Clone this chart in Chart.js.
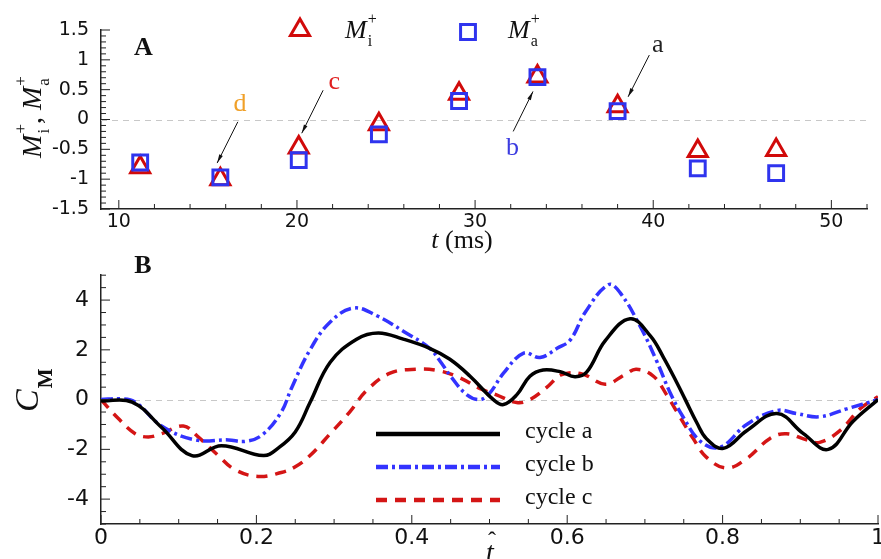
<!DOCTYPE html>
<html>
<head>
<meta charset="utf-8">
<script src="https://cdn.jsdelivr.net/npm/chart.js@4.4.0/dist/chart.umd.min.js"></script>
<style>
  html, body { margin: 0; padding: 0; background: #fff; }
  #chartA { position: absolute; left: 0; top: 0; }
  #chartB { position: absolute; left: 0; top: 250px; }
</style>
</head>
<body>
<canvas id="chartA" width="881" height="255"></canvas>
<canvas id="chartB" width="881" height="309"></canvas>
<script>
(() => {
  'use strict';

  // Panel A: peak moments per pulse
  const pulseTimes = [11.2, 15.7, 20.1, 24.6, 29.1, 33.5, 38.0, 42.5, 46.9];
  const momentInst = [-0.8, -1.0, -0.47, -0.08, 0.43, 0.72, 0.22, -0.53, -0.51];
  const momentAvg = [-0.72, -0.97, -0.68, -0.25, 0.31, 0.71, 0.14, -0.82, -0.9];
  const xTicksA = [10, 20, 30, 40, 50];
  const yTicksA = [-1.5, -1, -0.5, 0, 0.5, 1, 1.5];

  // Panel B: moment coefficient over one cycle
  const tCycleA = [0, 0.04, 0.078, 0.117, 0.155, 0.209, 0.228, 0.25, 0.269, 0.295, 0.329, 0.357, 0.389, 0.423, 0.449, 0.475, 0.505, 0.518, 0.535, 0.552, 0.569, 0.591, 0.61, 0.625, 0.649, 0.681, 0.707, 0.724, 0.741, 0.752, 0.767, 0.779, 0.801, 0.831, 0.87, 0.904, 0.936, 0.968, 1.0];
  const cmCycleA = [-0.05, -0.1, -1.12, -2.25, -1.85, -2.25, -1.95, -1.3, -0.12, 1.5, 2.43, 2.68, 2.43, 2.06, 1.62, 0.94, 0, -0.2, 0.19, 0.94, 1.19, 1.12, 0.92, 1.1, 2.37, 3.25, 2.56, 1.69, 0.69, 0, -0.94, -1.56, -1.96, -1.25, -0.56, -1.37, -2.0, -0.87, 0];

  const tCycleB = [0, 0.025, 0.044, 0.078, 0.121, 0.164, 0.185, 0.207, 0.232, 0.245, 0.269, 0.295, 0.325, 0.355, 0.389, 0.423, 0.436, 0.451, 0.471, 0.488, 0.5, 0.518, 0.544, 0.565, 0.587, 0.604, 0.623, 0.653, 0.668, 0.694, 0.715, 0.732, 0.749, 0.772, 0.797, 0.831, 0.87, 0.895, 0.925, 0.96, 1.0];
  const cmCycleB = [0, 0.03, -0.1, -1.06, -1.62, -1.62, -1.68, -1.43, -0.5, 0.45, 2.0, 3.12, 3.68, 3.37, 2.75, 2.06, 1.56, 0.9, 0.19, 0, 0.25, 1.06, 1.87, 1.69, 2.06, 2.4, 3.5, 4.62, 4.3, 2.94, 1.56, 0.31, -0.69, -1.69, -1.91, -1.0, -0.44, -0.56, -0.69, -0.37, 0];

  const tCycleC = [0, 0.022, 0.044, 0.061, 0.078, 0.106, 0.125, 0.151, 0.172, 0.202, 0.232, 0.25, 0.269, 0.295, 0.32, 0.342, 0.372, 0.406, 0.436, 0.462, 0.488, 0.509, 0.535, 0.552, 0.574, 0.593, 0.619, 0.649, 0.674, 0.689, 0.711, 0.728, 0.745, 0.762, 0.779, 0.805, 0.831, 0.861, 0.882, 0.908, 0.925, 0.951, 0.977, 1.0];
  const cmCycleC = [0, -0.75, -1.37, -1.5, -1.37, -1.06, -1.5, -2.25, -2.81, -3.09, -2.93, -2.7, -2.25, -1.37, -0.5, 0.37, 1.06, 1.22, 1.15, 0.87, 0.44, 0.19, -0.12, 0, 0.5, 1.0, 1.03, 0.62, 1.0, 1.22, 0.94, 0.19, -0.69, -1.56, -2.31, -2.75, -2.37, -1.56, -1.37, -1.62, -1.72, -1.25, -0.37, 0.12];

  const xTicksB = [0, 0.2, 0.4, 0.6, 0.8, 1];
  const yTicksB = [-4, -2, 0, 2, 4];
  const cycleNames = ['cycle a', 'cycle b', 'cycle c'];

  const RED = '#d10a0a';
  const BLUE = '#2f34ee';
  const SERIF = '"Liberation Serif", "Times New Roman", serif';
  const SANS = '"DejaVu Sans", Verdana, sans-serif';

  const toPoints = (xs, ys) => xs.map((x, i) => ({ x: x, y: ys[i] }));

  // Tecplot-style ticks pointing into the plot, with minor ticks
  const innerTicks = {
    id: 'innerTicks',
    afterDraw(chart, args, opts) {
      const { ctx, chartArea: a } = chart;
      const sx = chart.scales.x, sy = chart.scales.y;
      const walk = (scale, minor, major, cb) => {
        const n0 = Math.ceil(scale.min / minor - 1e-9);
        const n1 = Math.floor(scale.max / minor + 1e-9);
        for (let i = n0; i <= n1; i++) {
          const v = i * minor;
          const isMajor = Math.abs(v / major - Math.round(v / major)) < 1e-6;
          cb(scale.getPixelForValue(v), isMajor ? 9 : 5);
        }
      };
      ctx.save();
      ctx.strokeStyle = '#222';
      ctx.lineWidth = 1;
      ctx.beginPath();
      walk(sx, opts.minorX, opts.majorX, (p, len) => { ctx.moveTo(p, a.bottom); ctx.lineTo(p, a.bottom - len); });
      walk(sy, opts.minorY, opts.majorY, (p, len) => { ctx.moveTo(a.left, p); ctx.lineTo(a.left + len, p); });
      ctx.stroke();
      ctx.restore();
    }
  };

  // dashed grey line at zero
  const zeroLine = {
    id: 'zeroLine',
    beforeDatasetsDraw(chart) {
      const { ctx, chartArea: a } = chart;
      const y = Math.round(chart.scales.y.getPixelForValue(0)) + 0.5;
      ctx.save();
      ctx.strokeStyle = '#c8c8c8';
      ctx.lineWidth = 1;
      ctx.setLineDash([6, 5]);
      ctx.beginPath();
      ctx.moveTo(a.left, y);
      ctx.lineTo(a.right, y);
      ctx.stroke();
      ctx.restore();
    }
  };

  // italic M with stacked superscript + and a subscript
  function drawMSymbol(ctx, x, y, sub, size, draw) {
    ctx.font = 'italic ' + size + 'px ' + SERIF;
    const w = ctx.measureText('M').width;
    if (draw) ctx.fillText('M', x, y);
    const small = Math.round(size * 0.6);
    ctx.font = small + 'px ' + SERIF;
    const wp = ctx.measureText('+').width;
    const ws = ctx.measureText(sub).width;
    if (draw) {
      ctx.fillText('+', x + w + 1, y - size * 0.52);
      ctx.fillText(sub, x + w + 1, y + size * 0.3);
    }
    return w + 1 + Math.max(wp, ws);
  }

  const calloutsA = [
    { text: 'd', color: '#f0a028', at: [16.8, 0.26], from: [16.68, -0.04], to: [15.52, -0.73] },
    { text: 'c', color: '#e02020', at: [22.1, 0.63], from: [21.47, 0.49], to: [20.27, -0.23] },
    { text: 'b', color: '#3c3ce0', at: [32.1, -0.48], from: [32.14, -0.2], to: [33.25, 0.47] },
    { text: 'a', color: '#222222', at: [40.25, 1.25], from: [39.78, 1.08], to: [38.59, 0.38] }
  ];

  const decorA = {
    id: 'decorA',
    afterDraw(chart) {
      const { ctx, chartArea: a } = chart;
      const sx = chart.scales.x, sy = chart.scales.y;
      ctx.save();
      ctx.fillStyle = '#111';
      ctx.textBaseline = 'alphabetic';

      // panel letter
      ctx.font = 'bold 26px ' + SERIF;
      ctx.textAlign = 'center';
      ctx.fillText('A', a.left + 42.5, 55);

      // legend
      const ds = chart.data.datasets;
      [[300, 28, 345, 0, 'i'], [468, 30, 508, 1, 'a']].forEach(([mx, my, tx, di, sub]) => {
        ctx.lineWidth = ds[di].borderWidth;
        ctx.strokeStyle = ds[di].borderColor;
        ctx.fillStyle = 'rgba(0,0,0,0)';
        Chart.helpers.drawPoint(ctx, { pointStyle: ds[di].pointStyle, radius: ds[di].pointRadius, borderWidth: ds[di].borderWidth, rotation: 0 }, mx, my + 2);
        ctx.fillStyle = '#111';
        ctx.textAlign = 'left';
        drawMSymbol(ctx, tx, 38, sub, 26, true);
      });

      // y title
      ctx.save();
      ctx.translate(41, 117);
      ctx.rotate(-Math.PI / 2);
      ctx.textAlign = 'left';
      const parts = (draw, x0) => {
        let x = x0;
        x += drawMSymbol(ctx, x, 0, 'i', 28, draw);
        ctx.font = '28px ' + SERIF;
        if (draw) ctx.fillText(',', x, 0);
        x += ctx.measureText(', ').width;
        x += drawMSymbol(ctx, x, 0, 'a', 28, draw);
        return x - x0;
      };
      const w = parts(false, 0);
      parts(true, -w / 2);
      ctx.restore();

      // x title
      ctx.textAlign = 'left';
      ctx.font = 'italic 26px ' + SERIF;
      const wt = ctx.measureText('t ').width;
      ctx.font = '26px ' + SERIF;
      const wm = ctx.measureText('(ms)').width;
      const x0 = 462 - (wt + wm) / 2;
      ctx.font = 'italic 26px ' + SERIF;
      ctx.fillText('t', x0, 248);
      ctx.font = '26px ' + SERIF;
      ctx.fillText('(ms)', x0 + wt, 248);

      // callouts with arrows
      calloutsA.forEach(c => {
        const x1 = sx.getPixelForValue(c.from[0]), y1 = sy.getPixelForValue(c.from[1]);
        const x2 = sx.getPixelForValue(c.to[0]), y2 = sy.getPixelForValue(c.to[1]);
        ctx.strokeStyle = '#111';
        ctx.fillStyle = '#111';
        ctx.lineWidth = 1;
        ctx.beginPath();
        ctx.moveTo(x1, y1);
        ctx.lineTo(x2, y2);
        ctx.stroke();
        const ang = Math.atan2(y2 - y1, x2 - x1);
        ctx.beginPath();
        ctx.moveTo(x2, y2);
        ctx.lineTo(x2 - 9 * Math.cos(ang - 0.22), y2 - 9 * Math.sin(ang - 0.22));
        ctx.lineTo(x2 - 9 * Math.cos(ang + 0.22), y2 - 9 * Math.sin(ang + 0.22));
        ctx.closePath();
        ctx.fill();
        ctx.fillStyle = c.color;
        ctx.font = '26px ' + SERIF;
        ctx.textAlign = 'center';
        ctx.textBaseline = 'middle';
        ctx.fillText(c.text, sx.getPixelForValue(c.at[0]), sy.getPixelForValue(c.at[1]));
        ctx.textBaseline = 'alphabetic';
      });
      ctx.restore();
    }
  };

  const decorB = {
    id: 'decorB',
    afterDraw(chart) {
      const { ctx, chartArea: a } = chart;
      ctx.save();
      ctx.fillStyle = '#111';

      ctx.font = 'bold 26px ' + SERIF;
      ctx.textAlign = 'center';
      ctx.fillText('B', a.left + 42, 23);

      // legend
      chart.data.datasets.forEach((ds, i) => {
        const y = 184 + i * 33;
        ctx.strokeStyle = ds.borderColor;
        ctx.lineWidth = 4.5;
        ctx.setLineDash(ds.borderDash || []);
        ctx.beginPath();
        ctx.moveTo(376, y);
        ctx.lineTo(500, y);
        ctx.stroke();
        ctx.setLineDash([]);
        ctx.fillStyle = '#111';
        ctx.font = '24px ' + SERIF;
        ctx.textAlign = 'left';
        ctx.fillText(ds.label, 525, y + 4);
      });

      // y title C_M
      ctx.save();
      ctx.translate(38, 162);
      ctx.rotate(-Math.PI / 2);
      ctx.textAlign = 'left';
      ctx.font = 'italic 34px ' + SERIF;
      ctx.fillText('C', 0, 0);
      const wc = ctx.measureText('C').width;
      ctx.font = 'bold 21px ' + SERIF;
      ctx.fillText('M', wc + 1, 14);
      ctx.restore();

      // x title t-hat
      ctx.textAlign = 'center';
      ctx.font = 'italic 28px ' + SERIF;
      ctx.fillText('t', 490, 311);
      ctx.font = '24px ' + SERIF;
      ctx.fillText('\u02C6', 492, 298);
      ctx.restore();
    }
  };

  const axisCommon = (ticksArr, fontSize, pad, fit) => ({
    type: 'linear',
    grid: { display: false, drawTicks: false },
    border: { display: true, color: '#222', width: 1.5 },
    ticks: { font: { family: SANS, size: fontSize }, color: '#111', padding: pad, callback: v => String(v) },
    afterBuildTicks: s => { s.ticks = ticksArr.map(v => ({ value: v })); },
    afterFit: fit
  });

  new Chart(document.getElementById('chartA'), {
    type: 'scatter',
    data: {
      datasets: [
        {
          label: 'M+ i',
          data: toPoints(pulseTimes, momentInst),
          pointStyle: 'triangle',
          pointRadius: 11,
          borderWidth: 3,
          borderColor: RED,
          backgroundColor: 'rgba(0,0,0,0)',
          order: 1
        },
        {
          label: 'M+ a',
          data: toPoints(pulseTimes, momentAvg),
          pointStyle: 'rect',
          pointRadius: 10.5,
          borderWidth: 3,
          borderColor: BLUE,
          backgroundColor: 'rgba(0,0,0,0)',
          order: 0
        }
      ]
    },
    options: {
      responsive: false,
      animation: false,
      events: [],
      layout: { padding: { top: 30, right: 1, left: 0, bottom: 0 } },
      plugins: {
        legend: { display: false },
        tooltip: { enabled: false },
        innerTicks: { minorX: 2, majorX: 10, minorY: 0.1, majorY: 0.5 }
      },
      scales: {
        x: Object.assign(axisCommon(xTicksA, 19, 2, s => { s.height = 46; s.paddingLeft = 0; s.paddingRight = 0; }), { min: 9, max: 52 }),
        y: Object.assign(axisCommon(yTicksA, 19, 12, s => { s.width = 101; }), { min: -1.5, max: 1.5 })
      }
    },
    plugins: [zeroLine, innerTicks, decorA]
  });

  new Chart(document.getElementById('chartB'), {
    type: 'line',
    data: {
      datasets: [
        {
          label: cycleNames[0],
          data: toPoints(tCycleA, cmCycleA),
          borderColor: '#000000',
          borderWidth: 3.5
        },
        {
          label: cycleNames[1],
          data: toPoints(tCycleB, cmCycleB),
          borderColor: '#3333ff',
          borderWidth: 3.5,
          borderDash: [12, 4, 3, 4]
        },
        {
          label: cycleNames[2],
          data: toPoints(tCycleC, cmCycleC),
          borderColor: '#d41515',
          borderWidth: 3.5,
          borderDash: [11, 8]
        }
      ]
    },
    options: {
      responsive: false,
      animation: false,
      events: [],
      layout: { padding: { top: 7, right: 3, left: 0, bottom: 0 } },
      elements: {
        point: { radius: 0 },
        line: { tension: 0.4, fill: false }
      },
      plugins: {
        legend: { display: false },
        tooltip: { enabled: false },
        innerTicks: { minorX: 0.05, majorX: 0.2, minorY: 0.5, majorY: 2 }
      },
      scales: {
        x: Object.assign(axisCommon(xTicksB, 22, 1, s => { s.height = 35; s.paddingLeft = 0; s.paddingRight = 0; }), { min: 0, max: 1 }),
        y: Object.assign(axisCommon(yTicksB, 22, 12, s => { s.width = 101; }), { min: -5, max: 5 })
      }
    },
    plugins: [zeroLine, innerTicks, decorB]
  });
})();
</script>
</body>
</html>
